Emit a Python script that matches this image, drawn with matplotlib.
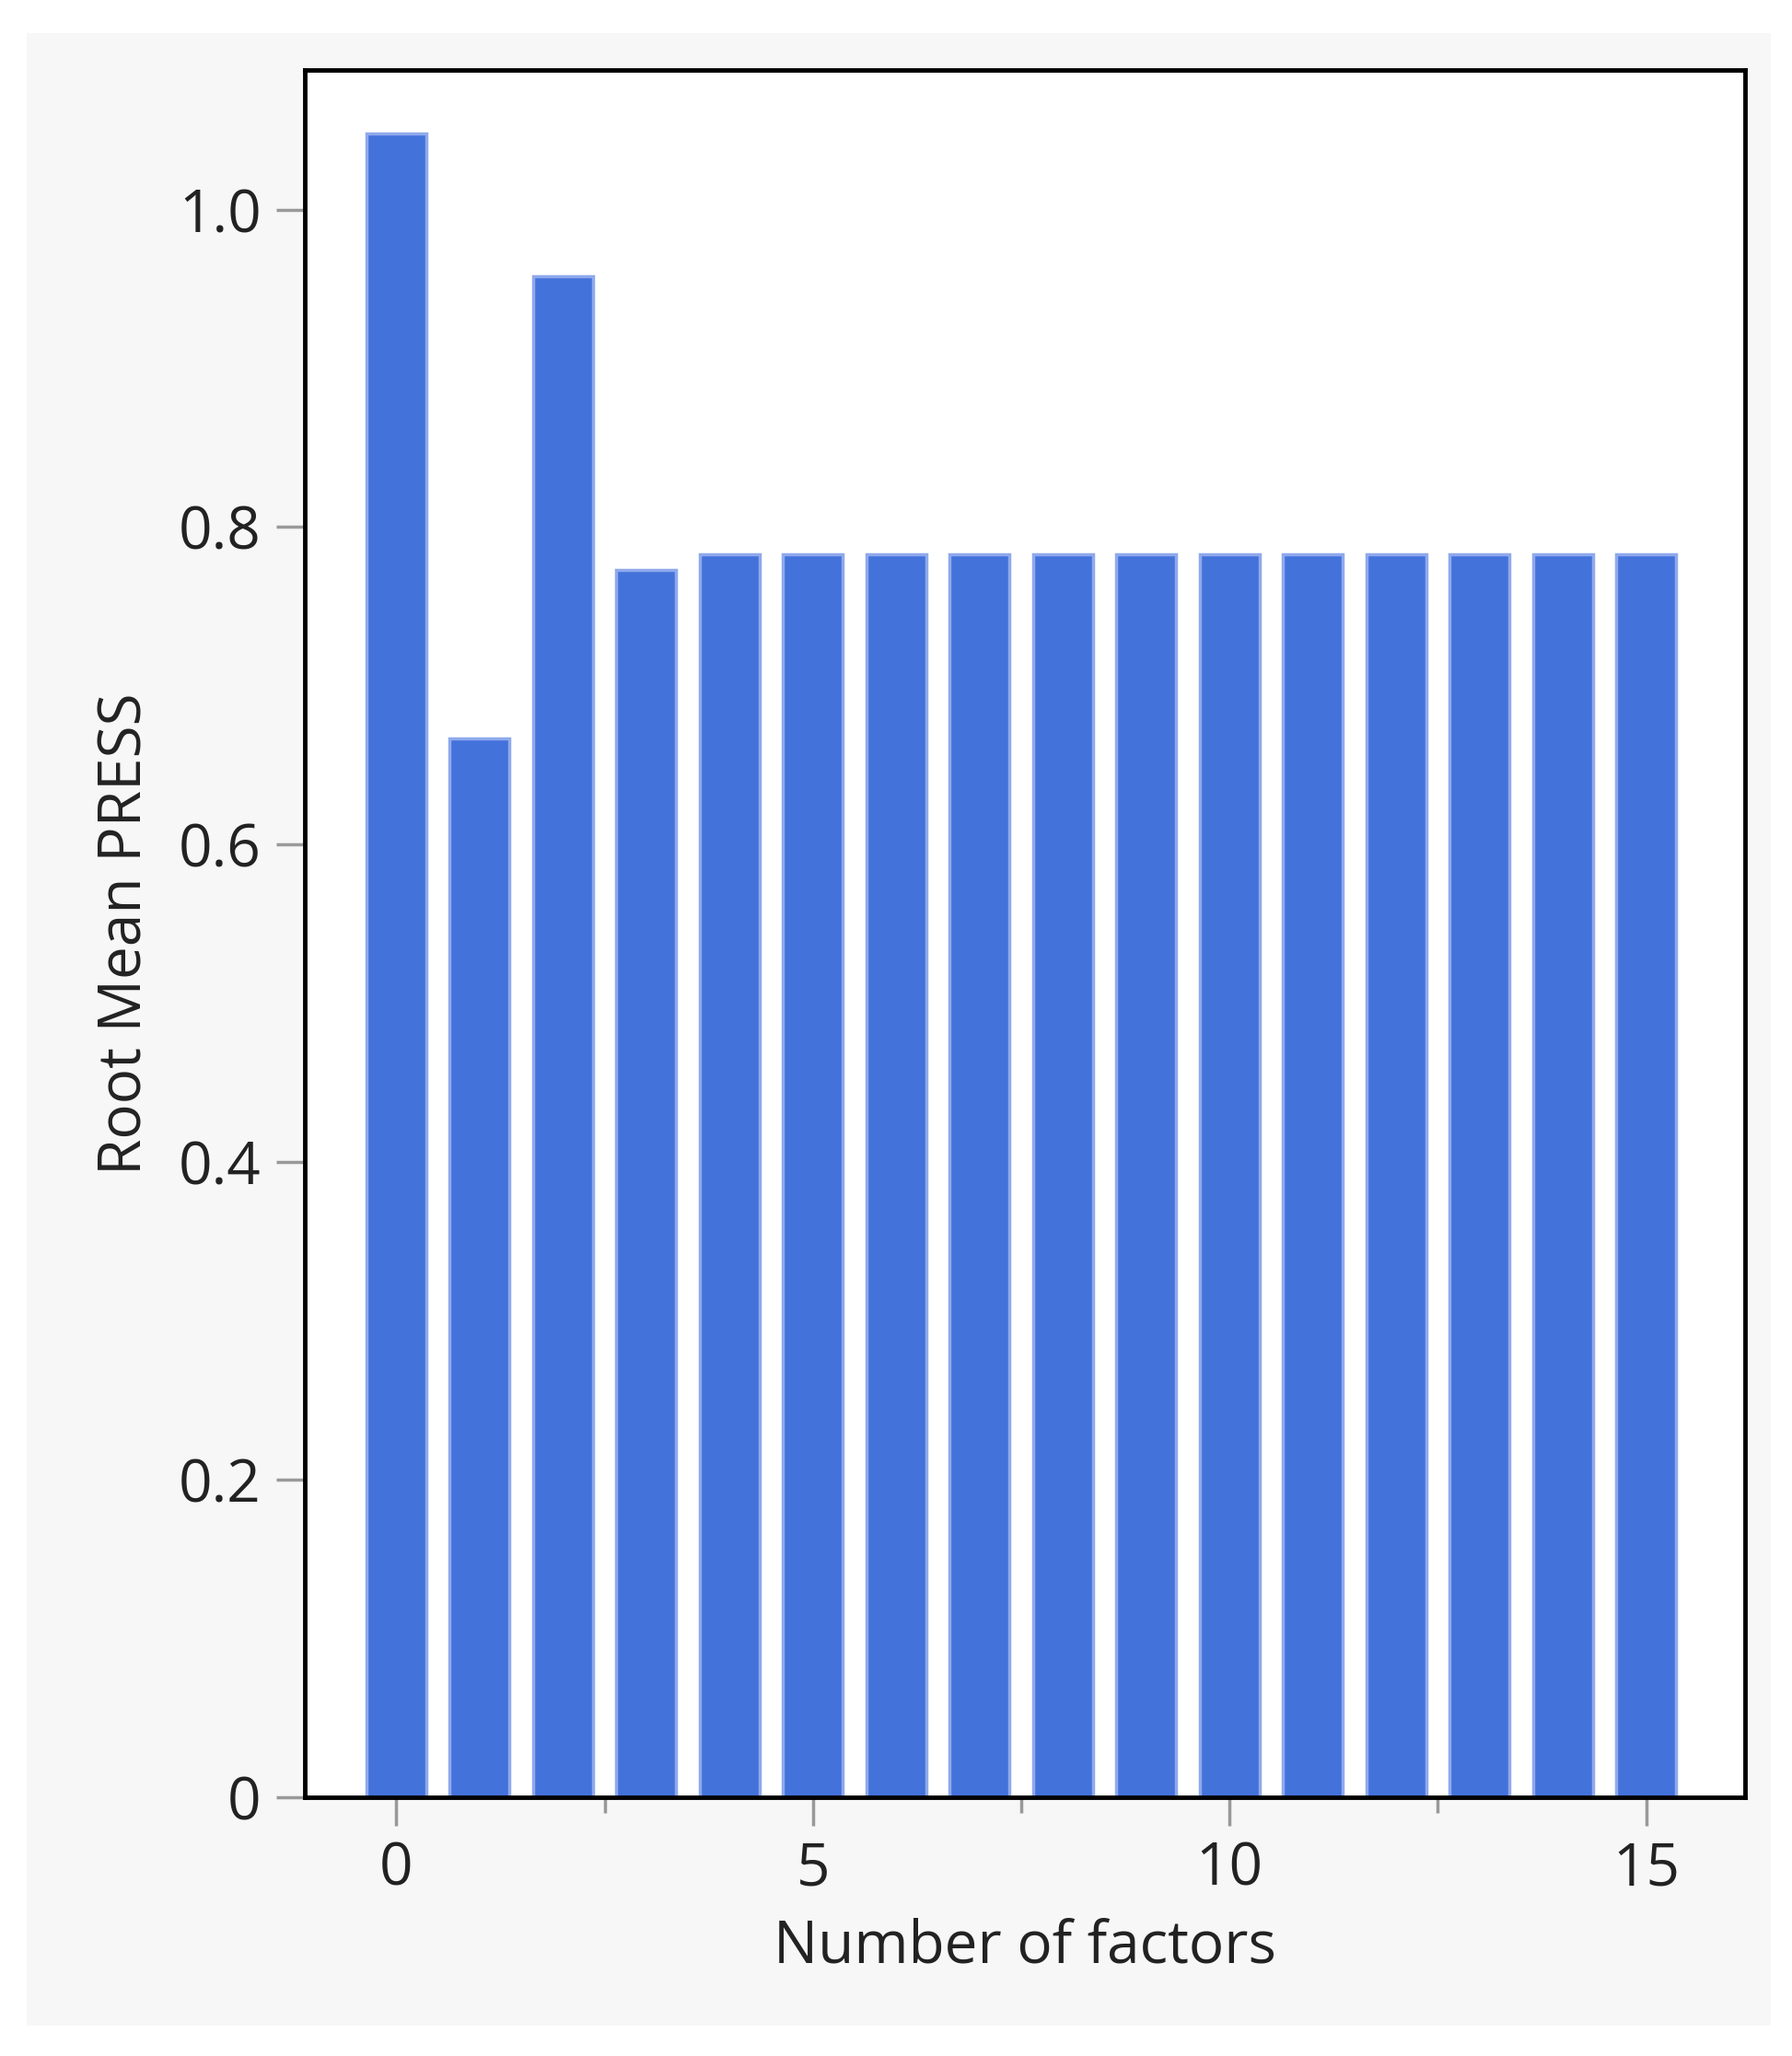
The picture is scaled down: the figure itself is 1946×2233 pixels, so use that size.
import matplotlib
matplotlib.use("Agg")
import matplotlib.pyplot as plt
from matplotlib.patches import Rectangle
from matplotlib.ticker import MultipleLocator

factors = list(range(16))
rmpress = [1.048, 0.667, 0.958, 0.773, 0.783, 0.783, 0.783, 0.783,
           0.783, 0.783, 0.783, 0.783, 0.783, 0.783, 0.783, 0.783]

plt.rcParams['font.family'] = ['Open Sans', 'DejaVu Sans']
fig = plt.figure(figsize=(19.46, 22.33), dpi=100, facecolor='white')
fig.patches.append(Rectangle((0.015, 0.015), 0.973, 0.969, transform=fig.transFigure,
                             facecolor='#f7f7f7', edgecolor='none', zorder=-1))
ax = fig.add_axes([0.170, 0.126, 0.804, 0.840])
ax.set_facecolor('white')
ax.bar(factors, rmpress, width=0.72, color='#4472db', edgecolor='#8fa9ec', linewidth=2.5)
ax.set_xlim(-1.1, 16.19)
ax.set_ylim(0, 1.088)
ax.set_xticks([0, 5, 10, 15])
ax.xaxis.set_minor_locator(MultipleLocator(2.5))
ax.set_yticks([0, 0.2, 0.4, 0.6, 0.8, 1.0])
ax.set_yticklabels(['0', '0.2', '0.4', '0.6', '0.8', '1.0'])
for s in ax.spines.values():
    s.set_linewidth(3.5)
ax.tick_params(axis='both', which='major', length=22, width=2.5, color='#999999',
               labelsize=46, labelcolor='#222222', pad=12)
ax.tick_params(axis='x', which='minor', length=12, width=2.5, color='#999999')
ax.set_xlabel('Number of factors', fontsize=46, color='#222222', labelpad=14)
ax.set_ylabel('Root Mean PRESS', fontsize=46, color='#222222', labelpad=18)
fig.savefig('out.png', dpi=100, facecolor='white')
